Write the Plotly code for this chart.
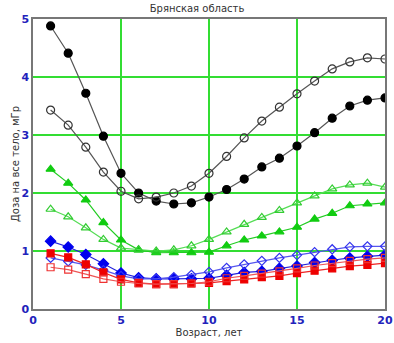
import plotly.graph_objects as go

ages = list(range(1, 21))
black_filled = [4.88, 4.41, 3.72, 2.98, 2.34, 2.0, 1.86, 1.81, 1.83, 1.93, 2.06, 2.24, 2.45, 2.6, 2.81, 3.04, 3.29, 3.5, 3.6, 3.64]
black_open = [3.43, 3.17, 2.79, 2.36, 2.03, 1.9, 1.93, 2.0, 2.12, 2.34, 2.63, 2.95, 3.24, 3.48, 3.71, 3.93, 4.14, 4.26, 4.33, 4.31]
green_filled = [2.41, 2.17, 1.88, 1.49, 1.19, 1.02, 0.97, 0.97, 0.97, 0.98, 1.09, 1.19, 1.26, 1.33, 1.41, 1.55, 1.65, 1.78, 1.81, 1.83]
green_open = [1.72, 1.59, 1.4, 1.2, 1.05, 1.02, 1.0, 1.02, 1.09, 1.2, 1.33, 1.46, 1.58, 1.7, 1.83, 1.95, 2.07, 2.14, 2.17, 2.1]
blue_filled = [1.17, 1.07, 0.94, 0.78, 0.62, 0.54, 0.52, 0.52, 0.52, 0.53, 0.58, 0.63, 0.65, 0.7, 0.74, 0.8, 0.84, 0.88, 0.91, 0.93]
blue_open = [0.88, 0.82, 0.76, 0.67, 0.57, 0.52, 0.52, 0.55, 0.59, 0.64, 0.71, 0.77, 0.83, 0.88, 0.93, 0.98, 1.03, 1.07, 1.08, 1.08]
red_filled = [0.96, 0.89, 0.77, 0.63, 0.51, 0.45, 0.43, 0.43, 0.44, 0.45, 0.48, 0.51, 0.55, 0.57, 0.62, 0.66, 0.7, 0.74, 0.76, 0.79]
red_open = [0.72, 0.68, 0.6, 0.52, 0.47, 0.44, 0.43, 0.43, 0.44, 0.47, 0.53, 0.57, 0.61, 0.65, 0.7, 0.75, 0.79, 0.83, 0.86, 0.88]

x_ticks = [0, 5, 10, 15, 20]
y_ticks = [0, 1, 2, 3, 4, 5]

series = [
    (black_filled, "#555555", "#000000", "circle", 8),
    (black_open, "#555555", "#333333", "circle-open", 8),
    (green_filled, "#22cc22", "#11cc11", "triangle-up", 8),
    (green_open, "#55dd55", "#33cc33", "triangle-up-open", 8),
    (blue_filled, "#2222dd", "#0000ee", "diamond", 8),
    (blue_open, "#5555ee", "#3333ee", "diamond-open", 7),
    (red_filled, "#ee2222", "#ee0000", "square", 7),
    (red_open, "#ee5555", "#ee3333", "square-open", 7),
]

fig = go.Figure()
for ys, lc, mc, sym, sz in series:
    fig.add_trace(go.Scatter(
        x=ages, y=ys, mode="lines+markers",
        line=dict(color=lc, width=1.2),
        marker=dict(symbol=sym, size=sz, color=mc, line=dict(color=mc, width=1.2)),
        showlegend=False,
    ))

fig.update_layout(
    width=394, height=343,
    margin=dict(l=33, r=9, t=19, b=34, autoexpand=False),
    paper_bgcolor="white", plot_bgcolor="white",
    title=dict(text="Брянская область", x=0.5, xanchor="center", y=0.985, yanchor="top",
               font=dict(family="DejaVu Sans", size=10, color="#333333")),
    font=dict(family="DejaVu Sans"),
)
fig.update_xaxes(
    range=[0, 20], tickvals=x_ticks, showgrid=True, gridcolor="#33dd33", gridwidth=1.5,
    showline=True, linecolor="#777777", linewidth=1.5, mirror=True, zeroline=False,
    automargin=False,
    ticks="", tickfont=dict(color="#2222bb", size=11, family="DejaVu Sans", weight="bold"),
    title=dict(text="Возраст, лет", font=dict(size=10, color="#333333"), standoff=2),
)
fig.update_yaxes(
    range=[0, 5], tickvals=y_ticks, showgrid=True, gridcolor="#33dd33", gridwidth=1.5,
    showline=True, linecolor="#777777", linewidth=1.5, mirror=True, zeroline=False,
    automargin=False,
    ticks="", tickfont=dict(color="#2222bb", size=11, family="DejaVu Sans", weight="bold"),
    title=dict(text="Доза на все тело, мГр", font=dict(size=10, color="#333333"), standoff=0),
)

fig.write_html("out.html", config={"displayModeBar": False},
               post_script="document.body.style.margin='0px';document.body.style.overflow='hidden';")
